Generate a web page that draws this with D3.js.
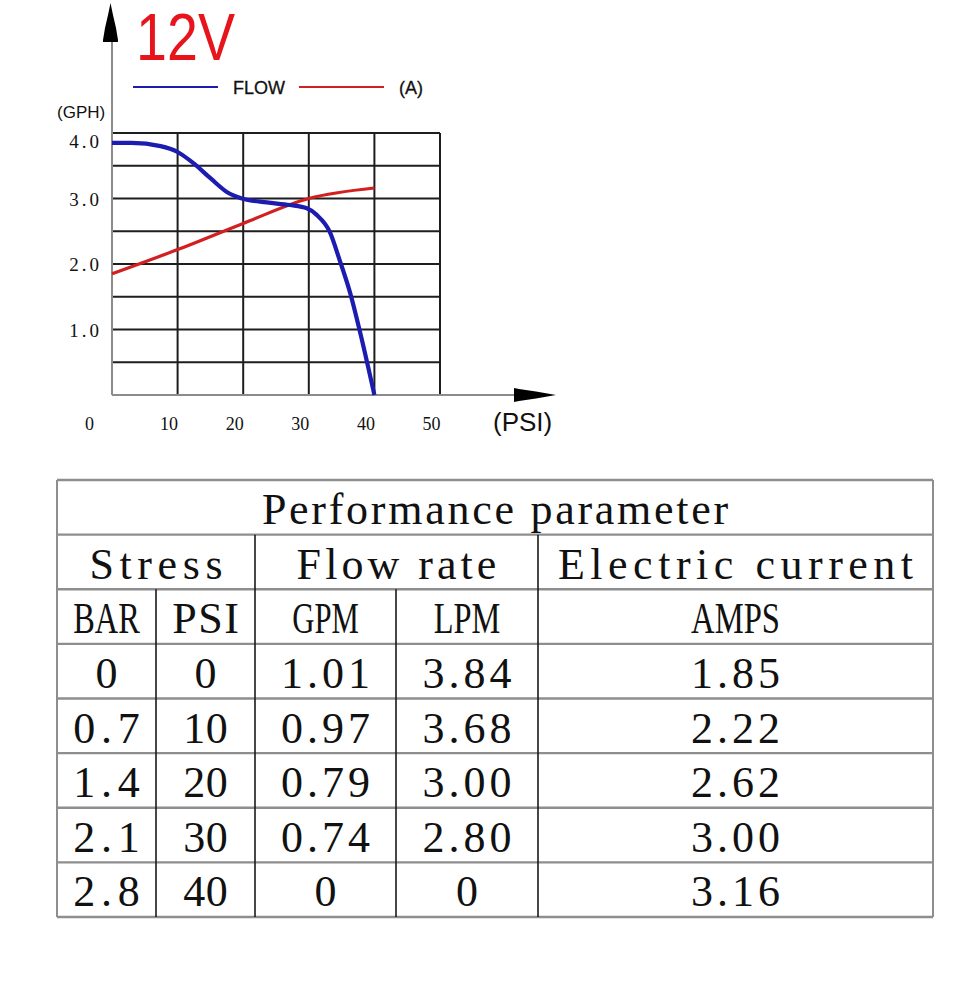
<!DOCTYPE html>
<html><head><meta charset="utf-8">
<script src="https://cdn.jsdelivr.net/npm/d3@7"></script>
<style>body{margin:0;background:#fff}svg{display:block}</style>
</head><body><svg id="c" width="960" height="982"></svg>
<script>
// ---- data ----
const psiTicks = [0, 10, 20, 30, 40, 50];
const gphTicks = [1, 2, 3, 4];
const gridY = [0.5, 1, 1.5, 2, 2.5, 3, 3.5, 4];
const gridX = [10, 20, 30, 40, 50];
const flowPsi = [0, 3, 7.4, 10, 12.4, 15, 17.5, 19.8, 23.6, 27.1, 29.7, 31.2, 33.2, 34.7, 36.3, 38.1, 40];
const flowGph = [3.85, 3.85, 3.80, 3.71, 3.54, 3.31, 3.10, 3.00, 2.94, 2.90, 2.85, 2.75, 2.49, 2.06, 1.56, 0.84, 0];
const ampPsi = [0, 10, 20, 30, 40];
const ampVal = [1.85, 2.22, 2.62, 3.00, 3.16];
const legendLabels = ["FLOW", "(A)"];
const titleText = "12V";
const tableTitle = "Performance parameter";
const groupHeaders = ["Stress", "Flow rate", "Electric current"];
const unitHeaders = ["BAR", "PSI", "GPM", "LPM", "AMPS"];
const colBar = ["0", "0.7", "1.4", "2.1", "2.8"];
const colPsi = ["0", "10", "20", "30", "40"];
const colGpm = ["1.01", "0.97", "0.79", "0.74", "0"];
const colLpm = ["3.84", "3.68", "3.00", "2.80", "0"];
const colAmps = ["1.85", "2.22", "2.62", "3.00", "3.16"];

// ---- chart ----
const svg = d3.select("#c");
svg.append("rect").attr("width", 960).attr("height", 982).attr("fill", "#fff");
const x = d3.scaleLinear([0, 50], [112, 440]);
const y = d3.scaleLinear([0, 4], [395, 133]);
const BLUE = "#1c1cb0", RED = "#d21f1f";

// grid
const g = svg.append("g");
g.selectAll(".gx").data(gridX).join("line")
  .attr("x1", d => x(d)).attr("x2", d => x(d)).attr("y1", y(0)).attr("y2", y(4))
  .attr("stroke", "#1e1e1e").attr("stroke-width", 2);
g.selectAll(".gy").data(gridY).join("line")
  .attr("x1", x(0)).attr("x2", x(50)).attr("y1", d => y(d)).attr("y2", d => y(d))
  .attr("stroke", "#1e1e1e").attr("stroke-width", 2);

// axes lines + arrows
svg.append("line").attr("x1", x(0)).attr("x2", x(0)).attr("y1", y(0)).attr("y2", 30)
  .attr("stroke", "#8c8c8c").attr("stroke-width", 2);
svg.append("line").attr("x1", x(0)).attr("x2", 520).attr("y1", y(0)).attr("y2", y(0))
  .attr("stroke", "#8c8c8c").attr("stroke-width", 2);
svg.append("polygon").attr("fill", "#000")
  .attr("points", "110.5,3 113,15 116,28 118,40 118,42 103,42 103,40 105,28 108,15");
svg.append("polygon").attr("fill", "#000")
  .attr("points", "514,388 519,389 536,391.5 556,395 536,398.5 519,401 514,402");

// curves
const line = d3.line().x(d => x(d[0])).y(d => y(d[1])).curve(d3.curveMonotoneX);
svg.append("path").datum(ampPsi.map((p, i) => [p, ampVal[i]]))
  .attr("d", line).attr("fill", "none").attr("stroke", RED).attr("stroke-width", 3.2);
svg.append("path").datum(flowPsi.map((p, i) => [p, flowGph[i]]))
  .attr("d", line).attr("fill", "none").attr("stroke", BLUE).attr("stroke-width", 4.2)
  .attr("stroke-linejoin", "round");

// axis labels via d3 axes
const xAxis = d3.axisBottom(x).tickValues(psiTicks).tickSize(0).tickPadding(22).tickFormat(d3.format("d"));
svg.append("g").attr("transform", `translate(0,${y(0)})`).call(xAxis)
  .call(a => a.select(".domain").remove())
  .call(a => a.selectAll("text").attr("font-family", "Liberation Serif, serif").attr("font-size", 18)
    .attr("fill", "#111").attr("dx", d => d === 0 ? -23 : -9));
const yAxis = d3.axisLeft(y).tickValues(gphTicks).tickSize(0).tickPadding(10).tickFormat(d => d.toFixed(1));
svg.append("g").attr("transform", `translate(${x(0)},0)`).call(yAxis)
  .call(a => a.select(".domain").remove())
  .call(a => a.selectAll("text").attr("font-family", "Liberation Serif, serif").attr("font-size", 19)
    .attr("fill", "#111").attr("letter-spacing", 3).attr("dy", d => d === 4 ? "0.75em" : "0.35em"));

svg.append("text").text("(GPH)").attr("x", 57).attr("y", 118)
  .attr("font-family", "Liberation Sans, Arial, sans-serif").attr("font-size", 17).attr("fill", "#111");
svg.append("text").text("(PSI)").attr("x", 493).attr("y", 431)
  .attr("font-family", "Liberation Sans, Arial, sans-serif").attr("font-size", 26).attr("fill", "#111");
svg.append("text").text(titleText).attr("x", 136).attr("y", 60)
  .attr("font-family", "Liberation Sans, Arial, sans-serif").attr("font-size", 66)
  .attr("textLength", 99).attr("lengthAdjust", "spacingAndGlyphs").attr("fill", "#e8141c");

// legend
const legend = svg.append("g");
const legColors = [BLUE, RED];
const legX = [133, 299];
legendLabels.forEach((lab, i) => {
  legend.append("line").attr("x1", legX[i]).attr("x2", legX[i] + 85).attr("y1", 87).attr("y2", 87)
    .attr("stroke", legColors[i]).attr("stroke-width", 2);
  legend.append("text").text(lab).attr("x", legX[i] + 100).attr("y", 94)
    .attr("font-family", "Liberation Sans, Arial, sans-serif")
    .attr("font-size", 18).attr("fill", "#111").attr("stroke", "#111").attr("stroke-width", 0.3);
});

// ---- table ----
const edges = [57, 156, 255, 396, 538, 933];
const row = d3.scaleLinear([0, 8], [480, 917]);
const t = svg.append("g");
const tf = "Liberation Serif, Times New Roman, serif";
function cellText(str, cx, r) {
  const el = t.append("text").text(str).attr("x", cx).attr("y", row(r) + 44)
    .attr("text-anchor", "middle").attr("font-family", tf).attr("font-size", 44).attr("fill", "#111");
  const target = str.length * 22.2;
  const w = el.node().getComputedTextLength();
  el.attr("textLength", target).attr("lengthAdjust", w > target ? "spacingAndGlyphs" : "spacing");
}
// horizontal lines
t.selectAll(".hl").data(d3.range(0, 9)).join("line")
  .attr("x1", edges[0]).attr("x2", edges[5]).attr("y1", d => row(d)).attr("y2", d => row(d))
  .attr("stroke", "#8e8e8e").attr("stroke-width", 2.4);
// outer verticals
[edges[0], edges[5]].forEach(xx => t.append("line").attr("x1", xx).attr("x2", xx)
  .attr("y1", row(0)).attr("y2", row(8)).attr("stroke", "#8e8e8e").attr("stroke-width", 2));
// inner verticals
[[edges[2], 1], [edges[4], 1], [edges[1], 2], [edges[3], 2]].forEach(([xx, r0]) =>
  t.append("line").attr("x1", xx).attr("x2", xx).attr("y1", row(r0)).attr("y2", row(8))
    .attr("stroke", "#1a1a1a").attr("stroke-width", 1.6));

cellText(tableTitle, (edges[0] + edges[5]) / 2, 0);
const groupSpans = [[0, 2], [2, 4], [4, 5]];
groupHeaders.forEach((h, i) => cellText(h, (edges[groupSpans[i][0]] + edges[groupSpans[i][1]]) / 2, 1));
unitHeaders.forEach((h, i) => cellText(h, (edges[i] + edges[i + 1]) / 2, 2));
const cols = [colBar, colPsi, colGpm, colLpm, colAmps];
cols.forEach((col, c) => col.forEach((v, r) => cellText(v, (edges[c] + edges[c + 1]) / 2, 3 + r)));
</script>
</body></html>
